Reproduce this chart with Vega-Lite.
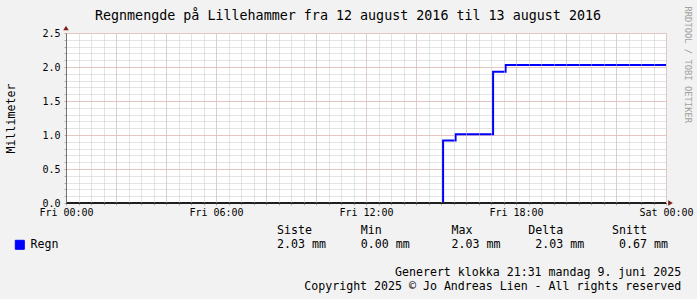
{
  "$schema": "https://vega.github.io/schema/vega-lite/v6.json",
  "width": 600,
  "height": 170,
  "autosize": {"type": "none"},
  "padding": {"left": 66, "top": 33, "right": 31, "bottom": 96},
  "background": "#f2f2f2",
  "config": {
    "font": "DejaVu Sans Mono",
    "view": {"fill": "#ffffff", "stroke": null}
  },
  "title": {
    "text": "Regnmengde på Lillehammer fra 12 august 2016 til 13 august 2016",
    "fontSize": 13.35,
    "fontWeight": "normal",
    "color": "#000000",
    "anchor": "middle",
    "frame": "group",
    "dx": -18,
    "offset": 0,
    "dy": 27.3,
    "baseline": "alphabetic"
  },
  "data": {
    "values": [
      {"tid": "2016-08-12T00:00:00Z", "mm": 0, "serie": "Regn"},
      {"tid": "2016-08-12T15:05:00Z", "mm": 0.92, "serie": "Regn"},
      {"tid": "2016-08-12T15:35:00Z", "mm": 1.01, "serie": "Regn"},
      {"tid": "2016-08-12T17:05:00Z", "mm": 1.93, "serie": "Regn"},
      {"tid": "2016-08-12T17:35:00Z", "mm": 2.03, "serie": "Regn"},
      {"tid": "2016-08-13T00:00:00Z", "mm": 2.03, "serie": "Regn"}
    ]
  },
  "layer": [
    {
      "mark": {"type": "line", "interpolate": "step-after", "strokeWidth": 2},
      "encoding": {
        "x": {
          "field": "tid",
          "type": "temporal",
          "scale": {"type": "utc"},
          "axis": {
            "orient": "bottom",
            "zindex": 1,
            "tickCount": 48,
            "labelExpr": "(utchours(datum.value) % 6 == 0 && utcminutes(datum.value) == 0) ? utcFormat(datum.value, '%a %H:%M') : ''",
            "labelFlush": false,
            "labelOverlap": false,
            "labelBound": false,
            "labelFontSize": 10,
            "labelColor": "#000000",
            "labelPadding": 2,
            "tickSize": 2,
            "tickColor": "#b0b0b0",
            "grid": true,
            "gridColor": "#c8c8c8",
            "gridDash": [1, 1],
            "gridWidth": 1,
            "domainColor": "#1f1f1f",
            "domainWidth": 1,
            "title": ["Siste\u00a0\u00a0\u00a0\u00a0\u00a0\u00a0\u00a0Min\u00a0\u00a0\u00a0\u00a0\u00a0\u00a0\u00a0\u00a0\u00a0\u00a0Max\u00a0\u00a0\u00a0\u00a0\u00a0\u00a0\u00a0\u00a0Delta\u00a0\u00a0\u00a0\u00a0\u00a0\u00a0\u00a0Snitt", "2.03\u00a0mm\u00a0\u00a0\u00a0\u00a0\u00a00.00\u00a0mm\u00a0\u00a0\u00a0\u00a0\u00a0\u00a02.03\u00a0mm\u00a0\u00a0\u00a0\u00a0\u00a02.03\u00a0mm\u00a0\u00a0\u00a0\u00a0\u00a00.67\u00a0mm"],
            "titleFontSize": 11.6,
            "titleFontWeight": "normal",
            "titleColor": "#000000",
            "titleAlign": "left",
            "titleAnchor": "start",
            "titleX": 210.5,
            "titleY": 30.5,
            "titleBaseline": "alphabetic",
            "titleLineHeight": 14
          }
        },
        "y": {
          "field": "mm",
          "type": "quantitative",
          "scale": {"domain": [0, 2.5], "nice": false, "zero": true},
          "axis": {
            "orient": "left",
            "values": [0, 0.1, 0.2, 0.3, 0.4, 0.5, 0.6, 0.7, 0.8, 0.9, 1, 1.1, 1.2, 1.3, 1.4, 1.5, 1.6, 1.7, 1.8, 1.9, 2, 2.1, 2.2, 2.3, 2.4, 2.5],
            "labelExpr": "abs(datum.value * 2 - round(datum.value * 2)) < 0.001 ? format(datum.value, '.1f') : ''",
            "labelOverlap": false,
            "labelFontSize": 10,
            "labelColor": "#000000",
            "labelPadding": 4,
            "tickSize": 2,
            "tickColor": "#b0b0b0",
            "grid": true,
            "gridColor": "#c8c8c8",
            "gridDash": [1, 1],
            "gridWidth": 1,
            "domainColor": "#1f1f1f",
            "domainWidth": 1,
            "title": "Millimeter",
            "titleFontSize": 11.6,
            "titleFontWeight": "normal",
            "titleColor": "#000000",
            "titleAngle": 270,
            "titleX": -55,
            "titleY": 85,
            "titleAlign": "center",
            "titleBaseline": "middle"
          }
        },
        "color": {
          "field": "serie",
          "type": "nominal",
          "scale": {"range": ["#0000ff"]},
          "legend": {
            "orient": "none",
            "legendX": -52,
            "legendY": 206,
            "title": null,
            "padding": 0,
            "symbolType": "square",
            "symbolSize": 81,
            "symbolOffset": 0,
            "symbolFillColor": "#0000ff",
            "symbolStrokeColor": "#000000",
            "symbolStrokeWidth": 1,
            "labelFontSize": 11.6,
            "labelColor": "#000000",
            "labelOffset": 5
          }
        }
      }
    },
    {
      "mark": {"type": "line", "interpolate": "step-after", "strokeWidth": 2, "opacity": 0},
      "encoding": {
        "x": {
          "field": "tid",
          "type": "temporal",
          "scale": {"type": "utc"},
          "axis": {
            "orient": "top",
            "values": [
              {"year": 2016, "month": 8, "date": 12, "hours": 0, "utc": true},
              {"year": 2016, "month": 8, "date": 12, "hours": 2, "utc": true},
              {"year": 2016, "month": 8, "date": 12, "hours": 4, "utc": true},
              {"year": 2016, "month": 8, "date": 12, "hours": 6, "utc": true},
              {"year": 2016, "month": 8, "date": 12, "hours": 8, "utc": true},
              {"year": 2016, "month": 8, "date": 12, "hours": 10, "utc": true},
              {"year": 2016, "month": 8, "date": 12, "hours": 12, "utc": true},
              {"year": 2016, "month": 8, "date": 12, "hours": 14, "utc": true},
              {"year": 2016, "month": 8, "date": 12, "hours": 16, "utc": true},
              {"year": 2016, "month": 8, "date": 12, "hours": 18, "utc": true},
              {"year": 2016, "month": 8, "date": 12, "hours": 20, "utc": true},
              {"year": 2016, "month": 8, "date": 12, "hours": 22, "utc": true},
              {"year": 2016, "month": 8, "date": 13, "hours": 0, "utc": true}
            ],
            "domain": false,
            "ticks": false,
            "labels": false,
            "grid": true,
            "gridColor": "#e8a4a4",
            "gridDash": [1, 1],
            "gridWidth": 1,
            "title": ["Generert klokka 21:31 mandag 9. juni 2025", "Copyright 2025 © Jo Andreas Lien - All rights reserved"],
            "titleFontSize": 11.6,
            "titleFontWeight": "normal",
            "titleColor": "#000000",
            "titleAlign": "right",
            "titleAnchor": "end",
            "titleX": 614.7,
            "titleY": 242.2,
            "titleBaseline": "alphabetic",
            "titleLineHeight": 14
          }
        },
        "y": {
          "field": "mm",
          "type": "quantitative",
          "axis": {
            "orient": "right",
            "values": [0.5, 1, 1.5, 2, 2.5],
            "domain": false,
            "ticks": false,
            "labels": false,
            "grid": true,
            "gridColor": "#e8a4a4",
            "gridDash": [1, 1],
            "gridWidth": 1,
            "title": "RRDTOOL / TOBI OETIKER",
            "titleFontSize": 8.8,
            "titleFontWeight": "normal",
            "titleColor": "#a0a0a0",
            "titleAngle": 90,
            "titleAlign": "left",
            "titleAnchor": "start",
            "titleX": 21.3,
            "titleY": -27,
            "titleBaseline": "middle"
          }
        }
      }
    },
    {
      "mark": {"type": "rule", "color": "#1f1f1f", "strokeWidth": 2},
      "encoding": {
        "y": {"datum": 0, "type": "quantitative", "axis": null}
      }
    },
    {
      "mark": {"type": "point", "shape": "triangle-up", "filled": true, "color": "#801f1f", "size": 30, "opacity": 1, "yOffset": -5},
      "encoding": {
        "x": {"aggregate": "min", "field": "tid", "type": "temporal", "axis": null},
        "y": {"datum": 2.5, "type": "quantitative", "axis": null}
      }
    },
    {
      "mark": {"type": "point", "shape": "triangle-right", "filled": true, "color": "#801f1f", "size": 30, "opacity": 1, "xOffset": 4.5},
      "encoding": {
        "x": {"aggregate": "max", "field": "tid", "type": "temporal", "axis": null},
        "y": {"datum": 0, "type": "quantitative", "axis": null}
      }
    }
  ],
  "resolve": {"axis": {"x": "independent", "y": "independent"}}
}
